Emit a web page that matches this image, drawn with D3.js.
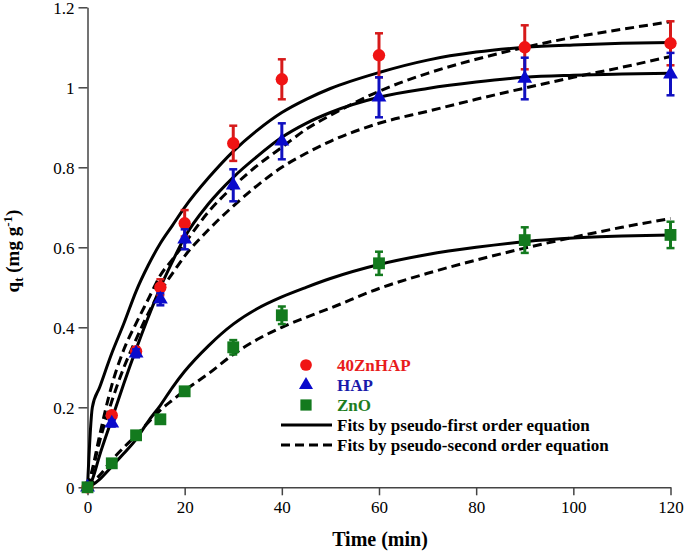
<!DOCTYPE html>
<html><head><meta charset="utf-8">
<script src="https://cdn.jsdelivr.net/npm/d3@7"></script>
<style>body{margin:0;background:#fff}svg{display:block}
text{font-family:"Liberation Serif","Times New Roman",Times,"DejaVu Serif",serif}</style>
</head><body>
<svg id="c" width="685" height="554"></svg>
<script>
// ---- data ----
const xTicks = [0, 20, 40, 60, 80, 100, 120];
const yTicks = [0, 0.2, 0.4, 0.6, 0.8, 1.0, 1.2];
const yTickLabels = ["0", "0.2", "0.4", "0.6", "0.8", "1", "1.2"];

const tData = [0, 5, 10, 15, 20, 30, 40, 60, 90, 120];
const zn40 = [0, 0.18, 0.34, 0.50, 0.66, 0.86, 1.02, 1.08, 1.10, 1.11];
const zn40Err = [0, 0.008, 0.01, 0.02, 0.033, 0.044, 0.05, 0.055, 0.055, 0.055];
const hap = [0, 0.16, 0.335, 0.47, 0.62, 0.755, 0.865, 0.975, 1.022, 1.033];
const hapErr = [0, 0.008, 0.01, 0.015, 0.025, 0.04, 0.045, 0.05, 0.052, 0.053];
const zno = [0, 0.06, 0.13, 0.17, 0.24, 0.35, 0.43, 0.56, 0.618, 0.631];
const znoErr = [0, 0.005, 0.008, 0.008, 0.01, 0.018, 0.022, 0.029, 0.032, 0.033];

const tFit = [0, 1, 2.5, 5, 7.5, 10, 12.5, 15, 17.5, 20, 25, 30, 35, 40, 45, 50, 60, 70, 80, 90, 100, 110, 120];
const zn40PFO = [0, 0.20, 0.25, 0.335, 0.41, 0.49, 0.555, 0.61, 0.655, 0.70, 0.775, 0.84, 0.893, 0.937, 0.97, 0.997, 1.037, 1.068, 1.088, 1.10, 1.106, 1.11, 1.112];
const hapPFO = [0, 0.02, 0.08, 0.17, 0.26, 0.345, 0.425, 0.50, 0.565, 0.625, 0.71, 0.775, 0.828, 0.875, 0.91, 0.937, 0.975, 0.997, 1.013, 1.025, 1.03, 1.033, 1.035];
const zn40PSO = [0, 0.045, 0.13, 0.255, 0.345, 0.41, 0.47, 0.53, 0.57, 0.61, 0.69, 0.752, 0.805, 0.85, 0.895, 0.93, 0.99, 1.035, 1.07, 1.10, 1.125, 1.145, 1.164];
const hapPSO = [0, 0.04, 0.115, 0.215, 0.30, 0.37, 0.435, 0.49, 0.535, 0.578, 0.645, 0.703, 0.755, 0.80, 0.835, 0.865, 0.91, 0.94, 0.97, 0.998, 1.025, 1.05, 1.077];
const znoPFO = [0, 0.006, 0.02, 0.052, 0.085, 0.12, 0.165, 0.205, 0.25, 0.29, 0.355, 0.408, 0.447, 0.476, 0.50, 0.522, 0.557, 0.582, 0.60, 0.614, 0.623, 0.628, 0.631];
const znoPSO = [0, 0.012, 0.03, 0.068, 0.10, 0.13, 0.162, 0.193, 0.218, 0.242, 0.285, 0.332, 0.37, 0.40, 0.425, 0.448, 0.497, 0.535, 0.568, 0.598, 0.625, 0.65, 0.672];

const seriesNames = ["40ZnHAP", "HAP", "ZnO"];
const seriesColors = ["#f01414", "#0a0acc", "#137a1e"];
const errColors = ["#d61a1a", "#1010c0", "#137a1e"];
const legendTextColors = ["#e81c1c", "#1a1aaa", "#1e7d1e"];
const fitNames = ["Fits by pseudo-first order equation", "Fits by pseudo-second order equation"];

// ---- layout ----
const svg = d3.select("#c");
const x = d3.scaleLinear().domain([0, 120]).range([87.5, 670.5]);
const y = d3.scaleLinear().domain([0, 1.2]).range([487.3, 7.3]);
const serif = '"Liberation Serif","Times New Roman",Times,"DejaVu Serif",serif';

// axes
const xAxis = svg.append("g").attr("transform", `translate(0,${y(0)})`)
  .call(d3.axisBottom(x).tickValues(xTicks).tickSize(8).tickSizeOuter(0).tickPadding(6));
const yAxis = svg.append("g").attr("transform", `translate(${x(0)},0)`)
  .call(d3.axisLeft(y).tickValues(yTicks).tickFormat((d, i) => yTickLabels[i]).tickSize(9).tickSizeOuter(0).tickPadding(4));
[xAxis, yAxis].forEach(g => {
  g.attr("font-family", null);
  g.select(".domain").attr("stroke", "#444").attr("stroke-width", 1.5);
  g.selectAll(".tick line").attr("stroke", "#444").attr("stroke-width", 1.5);
  g.selectAll(".tick text").style("font-family", serif).attr("font-size", 17).attr("fill", "#000");
});
yAxis.selectAll(".tick text").attr("dy", "0.36em");

// fit lines
const line = d3.line().x(d => x(d[0])).y(d => y(d[1])).curve(d3.curveMonotoneX);
const fits = [
  [zn40PFO, false], [hapPFO, false], [znoPFO, false],
  [zn40PSO, true], [hapPSO, true], [znoPSO, true]
];
fits.forEach(([vals, dashed]) => {
  svg.append("path")
    .attr("d", line(tFit.map((t, i) => [t, vals[i]])))
    .attr("fill", "none").attr("stroke", "#000").attr("stroke-width", 3)
    .attr("stroke-dasharray", dashed ? "9,5" : null);
});

// points with error bars
const symbols = [d3.symbolCircle, d3.symbolTriangle, d3.symbolSquare];
const sizes = [120, 95, 140];
const allVals = [zn40, hap, zno];
const allErr = [zn40Err, hapErr, znoErr];
allVals.forEach((vals, s) => {
  const g = svg.append("g");
  tData.forEach((t, i) => {
    const e = allErr[s][i];
    if (e > 0) {
      const cx = x(t), y1 = y(vals[i] + e), y2 = y(vals[i] - e);
      g.append("line").attr("x1", cx).attr("x2", cx).attr("y1", y1).attr("y2", y2)
        .attr("stroke", errColors[s]).attr("stroke-width", 3);
      [y1, y2].forEach(yy => g.append("line").attr("x1", cx - 4).attr("x2", cx + 4)
        .attr("y1", yy).attr("y2", yy).attr("stroke", errColors[s]).attr("stroke-width", 2.5));
    }
  });
  tData.forEach((t, i) => {
    g.append("path").attr("d", d3.symbol(symbols[s], sizes[s])())
      .attr("transform", `translate(${x(t)},${y(vals[i])})`)
      .attr("fill", seriesColors[s]);
  });
});

// legend
const lg = svg.append("g");
seriesNames.forEach((n, i) => {
  const yy = 365 + i * 20;
  lg.append("path").attr("d", d3.symbol(symbols[i], sizes[i] * 0.9)())
    .attr("transform", `translate(306,${yy})`).attr("fill", seriesColors[i]);
  lg.append("text").attr("x", 337).attr("y", yy + 6).text(n)
    .style("font-family", serif).attr("font-weight", "bold").attr("font-size", 17)
    .attr("fill", legendTextColors[i]);
});
fitNames.forEach((n, i) => {
  const yy = 425 + i * 20;
  lg.append("line").attr("x1", 281).attr("x2", 332).attr("y1", yy).attr("y2", yy)
    .attr("stroke", "#000").attr("stroke-width", 3).attr("stroke-dasharray", i ? "9,5" : null);
  lg.append("text").attr("x", 337).attr("y", yy + 6).text(n)
    .style("font-family", serif).attr("font-weight", "bold").attr("font-size", 17).attr("fill", "#000");
});

// axis titles
svg.append("text").attr("x", 380).attr("y", 546).attr("text-anchor", "middle")
  .style("font-family", serif).attr("font-weight", "bold").attr("font-size", 20).text("Time (min)");
const yt = svg.append("text").attr("transform", "translate(19,251) rotate(-90)").attr("text-anchor", "middle")
  .style("font-family", serif).attr("font-weight", "bold").attr("font-size", 19);
yt.append("tspan").text("q");
yt.append("tspan").attr("font-size", 13).attr("dy", 4).text("t");
yt.append("tspan").attr("dy", -4).text(" (mg g");
yt.append("tspan").attr("font-size", 13).attr("dy", -7).text("-1");
yt.append("tspan").attr("dy", 7).text(")");
</script>
</body></html>
